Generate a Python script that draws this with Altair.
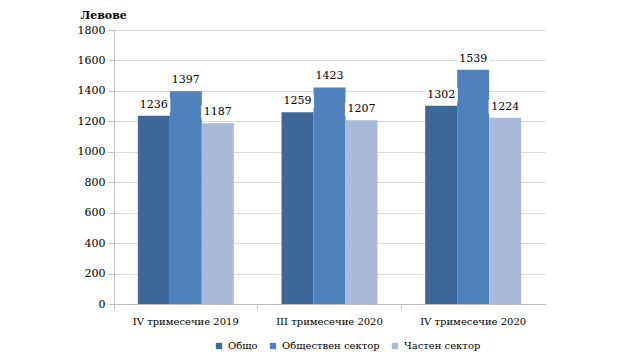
import altair as alt
import pandas as pd

quarters = ["IV тримесечие 2019", "III тримесечие 2020", "IV тримесечие 2020"]
series = ["Общо", "Обществен сектор", "Частен сектор"]
obshto = [1236, 1259, 1302]
obshtestven = [1397, 1423, 1539]
chasten = [1187, 1207, 1224]
colors = ["#3E679A", "#4F81BD", "#A9B9DA"]

rows = []
for i, q in enumerate(quarters):
    for s, vals in zip(series, [obshto, obshtestven, chasten]):
        rows.append({"quarter": q, "series": s, "value": vals[i]})
df = pd.DataFrame(rows)

FONT = "DejaVu Serif"

x = alt.X("quarter:N", sort=quarters, title=None,
          scale=alt.Scale(paddingInner=0, paddingOuter=0),
          axis=alt.Axis(labelAngle=0, bandPosition=0, labelFont=FONT, labelFontSize=10,
                        labelColor="#000", domainColor="#bfbfbf", tickColor="#bfbfbf",
                        tickSize=5, labelPadding=7, grid=False))
xo = alt.XOffset("series:N", sort=series,
                 scale=alt.Scale(domain=series, paddingInner=0, paddingOuter=0.745))
y = alt.Y("value:Q",
          scale=alt.Scale(domain=[0, 1800], nice=False),
          axis=alt.Axis(values=list(range(0, 1801, 200)), format="d", title="Левове",
                        titleAngle=0,
                        titleX=-34, titleY=-15, titleAlign="left", titleBaseline="middle",
                        titleFont=FONT, titleFontSize=11, titleFontWeight="bold",
                        titleColor="#000",
                        labelFont=FONT, labelFontSize=11, labelColor="#000",
                        domainColor="#bfbfbf", tickColor="#bfbfbf", tickSize=6,
                        labelPadding=3, gridColor="#d9d9d9"))

bars = alt.Chart(df).mark_bar().encode(
    x=x, xOffset=xo, y=y,
    color=alt.Color("series:N", sort=series,
                    scale=alt.Scale(domain=series, range=colors),
                    legend=alt.Legend(title=None, orient="none", direction="horizontal",
                                      legendX=100, legendY=311, symbolType="square",
                                      symbolSize=40, symbolStrokeWidth=0,
                                      labelFont=FONT, labelFontSize=10, labelColor="#000",
                                      columnPadding=10, labelOffset=4)),
)

bgs = alt.Chart(df).mark_point(
    shape="M-1,-0.42L1,-0.42L1,0.42L-1,0.42Z", filled=True, color="white",
    opacity=1, size=1100, yOffset=-11,
).encode(x=x, xOffset=xo, y=y)

labels = alt.Chart(df).mark_text(
    font=FONT, fontSize=11, color="#000", dy=-11, baseline="middle",
).encode(x=x, xOffset=xo, y=y, text="value:Q")

chart = alt.layer(bars, bgs, labels).properties(
    width=431, height=274,
    padding={"left": 106, "top": 22, "right": 87, "bottom": 48},
    autosize=alt.AutoSizeParams(type="none"),
).configure_view(stroke=None).configure_axis(gridWidth=1)

chart.save("out.html", embed_options={"renderer": "svg", "actions": False})
